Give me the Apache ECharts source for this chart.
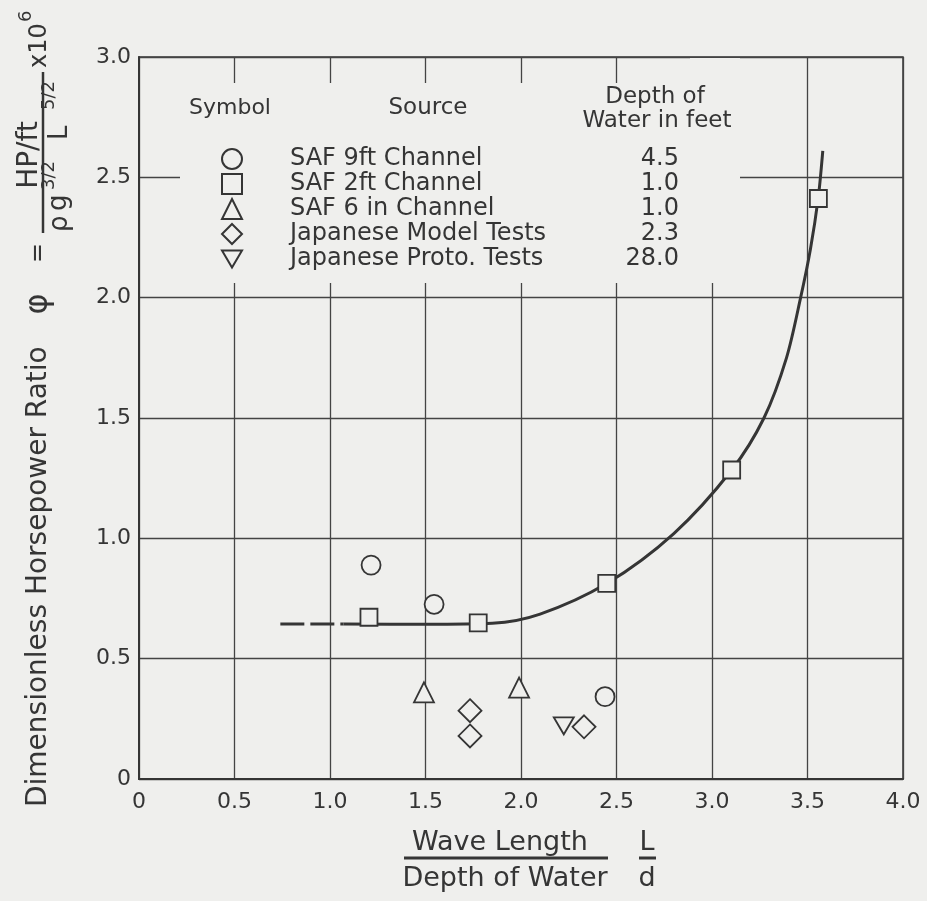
<!DOCTYPE html>
<html>
<head>
<meta charset="utf-8">
<title>Dimensionless Horsepower Ratio</title>
<script src="https://cdn.jsdelivr.net/npm/echarts@6/dist/echarts.min.js"></script>
<style>
	html, body { margin: 0; padding: 0; background: #efefed; }
	#chart { width: 927px; height: 901px; }
</style>
</head>
<body>
<div id="chart"></div>
<script>
	// data: [L/d, phi]
	var saf9ft = [[1.215, 0.889], [1.545, 0.726], [2.44, 0.342]];
	var saf2ft = [[1.204, 0.672], [1.776, 0.649], [2.449, 0.813], [3.103, 1.284], [3.557, 2.412]];
	var saf6in = [[1.492, 0.36], [1.99, 0.38]];
	var japModel = [[1.733, 0.284], [1.733, 0.179], [2.33, 0.217]];
	var japProto = [[2.224, 0.221]];
	var fitDashed = [[0.74, 0.644], [1.07, 0.644]];
	var fitSolid = [[1.07, 0.644], [1.5, 0.643], [1.85, 0.647], [2.1, 0.685], [2.45, 0.813],
		[2.8, 1.02], [3.103, 1.284], [3.272, 1.5], [3.39, 1.75], [3.464, 2.0], [3.515, 2.2],
		[3.557, 2.42], [3.58, 2.61]];

	var sources = ['SAF 9ft Channel', 'SAF 2ft Channel', 'SAF 6 in Channel', 'Japanese Model Tests', 'Japanese Proto. Tests'];
	var depths = ['4.5', '1.0', '1.0', '2.3', '28.0'];
	var xTickLabels = ['0', '0.5', '1.0', '1.5', '2.0', '2.5', '3.0', '3.5', '4.0'];
	var yTickLabels = ['0', '0.5', '1.0', '1.5', '2.0', '2.5', '3.0'];

	var bg = '#efefed';
	var ink = '#353535';
	var font = 'DejaVu Sans';

	var myChart = echarts.init(document.getElementById('chart'));

	function marker(name, data, symbol, size) {
		return {
			name: name,
			type: 'scatter',
			data: data,
			symbol: symbol,
			symbolSize: size,
			z: 5,
			itemStyle: { color: bg, borderColor: ink, borderWidth: 1.8, opacity: 1 }
		};
	}

	function txt(x, y, s, size, align) {
		return { type: 'text', z: 3, x: x, y: y, style: { text: s, font: size + 'px DejaVu Sans', fill: ink, align: align || 'center', verticalAlign: 'middle' } };
	}

	var downTri = 'path://M0,0L20,0L10,17Z';

	var option = {
		backgroundColor: bg,
		animation: false,
		textStyle: { fontFamily: font, color: ink },
		grid: {
			left: 139, right: 24, top: 57, bottom: 122,
			show: true, borderColor: ink, borderWidth: 1.5
		},
		legend: {
			orient: 'vertical',
			left: 221, top: 147, padding: 0,
			itemWidth: 20, itemHeight: 20, itemGap: 1,
			data: sources,
			formatter: function (name) {
				var i = sources.indexOf(name);
				return '{s|' + name + '}{d|' + depths[i] + '}';
			},
			textStyle: {
				fontFamily: font,
				color: ink,
				lineHeight: 20,
				rich: {
					s: { fontSize: 24, lineHeight: 20, fontFamily: font, color: ink, width: 300, padding: [0, 0, 0, 43] },
					d: { fontSize: 24, lineHeight: 20, fontFamily: font, color: ink, width: 89, align: 'right' }
				}
			}
		},
		xAxis: {
			type: 'value', min: 0, max: 4, interval: 0.5,
			axisLine: { show: true, lineStyle: { color: ink, width: 2 } },
			axisTick: { show: false },
			splitLine: { show: true, lineStyle: { color: '#444', width: 1.3 } },
			axisLabel: {
				margin: 12, fontSize: 22, fontFamily: font, color: ink,
				formatter: function (v) { return xTickLabels[Math.round(v / 0.5)]; }
			}
		},
		yAxis: {
			type: 'value', min: 0, max: 3, interval: 0.5,
			axisLine: { show: true, lineStyle: { color: ink, width: 2 } },
			axisTick: { show: false },
			splitLine: { show: true, lineStyle: { color: '#444', width: 1.3 } },
			axisLabel: {
				margin: 8, fontSize: 22, fontFamily: font, color: ink,
				formatter: function (v) { return yTickLabels[Math.round(v / 0.5)]; }
			}
		},
		graphic: [
			// blank area behind the symbol table
			{ type: 'rect', z: 1, silent: true, shape: { x: 180, y: 83, width: 560, height: 200 }, style: { fill: bg } },
			{ type: 'rect', z: 1, silent: true, shape: { x: 690, y: 58, width: 50, height: 30 }, style: { fill: bg } },
			txt(230, 108, 'Symbol', 22),
			txt(428, 108, 'Source', 23),
			txt(655, 97, 'Depth of', 23),
			txt(657, 121, 'Water in feet', 23),
			// x axis title
			txt(500, 843, 'Wave Length', 27),
			{ type: 'line', shape: { x1: 404, y1: 858, x2: 608, y2: 858 }, style: { stroke: ink, lineWidth: 3 } },
			txt(505, 879, 'Depth of Water', 27),
			txt(647, 843, 'L', 27),
			{ type: 'line', shape: { x1: 639, y1: 858, x2: 656, y2: 858 }, style: { stroke: ink, lineWidth: 3 } },
			txt(647, 879, 'd', 27),
			// y axis title, read bottom to top
			{
				type: 'group', x: 39, y: 807, rotation: Math.PI / 2,
				children: [
					txt(0, 0, 'Dimensionless Horsepower Ratio', 28, 'left'),
					txt(503, 0, 'φ', 32),
					txt(554, 0, '=', 24),
					txt(652, -9, 'HP/ft', 28),
					{ type: 'line', shape: { x1: 574, y1: 4, x2: 735, y2: 4 }, style: { stroke: ink, lineWidth: 2.5 } },
					txt(575, 21, 'ρ', 26, 'left'),
					txt(596, 20, 'g', 26, 'left'),
					txt(617, 10, '3/2', 18, 'left'),
					txt(667, 21, 'L', 26, 'left'),
					txt(697, 10, '5/2', 18, 'left'),
					txt(739, 1, 'x10', 24, 'left'),
					txt(785, -13, '6', 18, 'left')
				]
			}
		],
		series: [
			{
				type: 'line', data: fitDashed, showSymbol: false, silent: true, z: 3,
				lineStyle: { color: ink, width: 3, type: [24, 6] }
			},
			{
				type: 'line', data: fitSolid, showSymbol: false, silent: true, z: 3,
				smooth: 0.3,
				lineStyle: { color: ink, width: 3 }
			},
			marker(sources[0], saf9ft, 'circle', 19),
			marker(sources[1], saf2ft, 'rect', 17),
			marker(sources[2], saf6in, 'triangle', 20),
			marker(sources[3], japModel, 'diamond', 23),
			marker(sources[4], japProto, downTri, [20, 17])
		]
	};
	myChart.setOption(option);
</script>
</body>
</html>
